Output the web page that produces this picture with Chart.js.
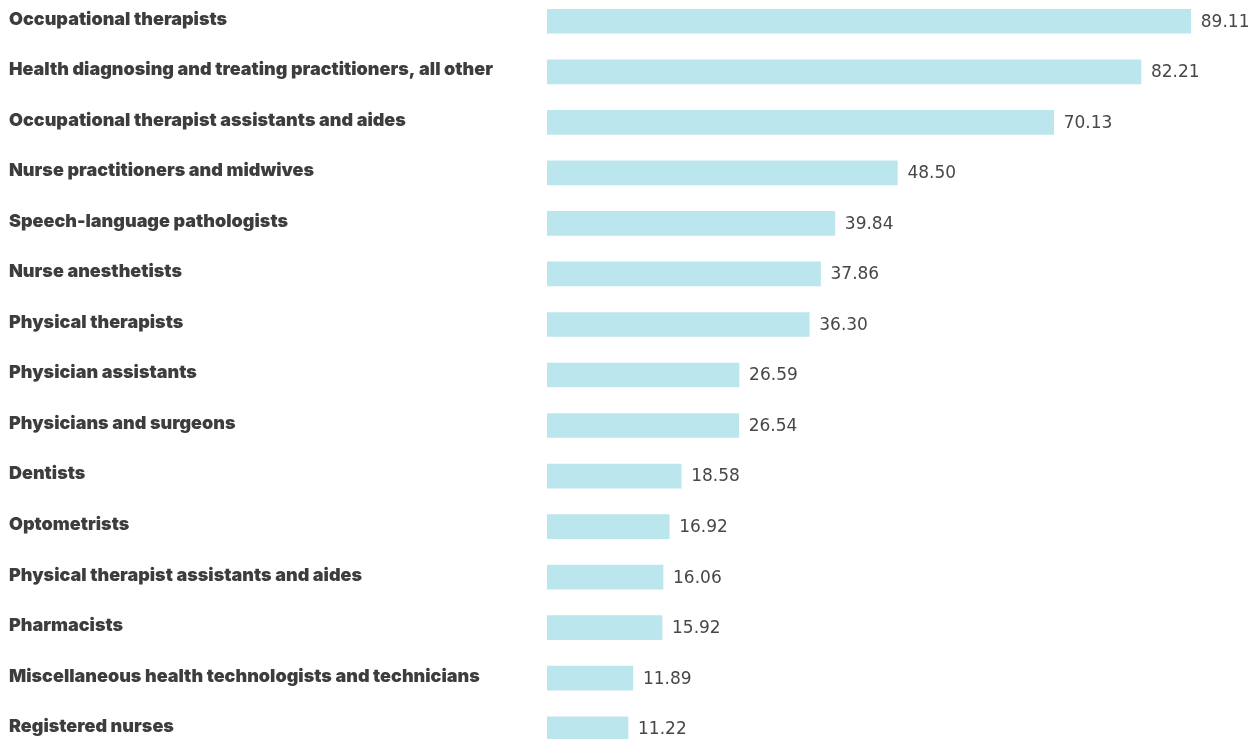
<!DOCTYPE html>
<html>
<head>
<meta charset="utf-8">
<script src="https://cdn.jsdelivr.net/npm/chart.js@4.4.1/dist/chart.umd.min.js"></script>
<style>
    html, body { margin: 0; padding: 0; background: #fff; overflow: hidden; }
    body { width: 1256px; height: 739px; position: relative; }
    #wrap { position: absolute; left: 0; top: -4px; width: 1256px; height: 758px; }
</style>
</head>
<body>
<div id="wrap"><canvas id="chart"></canvas></div>
<script>
// occupations and values, top to bottom
const occupations = [
    'Occupational therapists',
    'Health diagnosing and treating practitioners, all other',
    'Occupational therapist assistants and aides',
    'Nurse practitioners and midwives',
    'Speech-language pathologists',
    'Nurse anesthetists',
    'Physical therapists',
    'Physician assistants',
    'Physicians and surgeons',
    'Dentists',
    'Optometrists',
    'Physical therapist assistants and aides',
    'Pharmacists',
    'Miscellaneous health technologists and technicians',
    'Registered nurses'
];
const values = [89.11, 82.21, 70.13, 48.50, 39.84, 37.86, 36.30, 26.59, 26.54, 18.58, 16.92, 16.06, 15.92, 11.89, 11.22];

const barColor = '#bce6ed';
const labelColor = '#3d3d3d';

// value text right of each bar
const valueLabels = {
    id: 'valueLabels',
    afterDatasetsDraw(chart) {
        const ctx = chart.ctx;
        const meta = chart.getDatasetMeta(0);
        ctx.save();
        ctx.font = '17px "DejaVu Sans"';
        ctx.fillStyle = '#474747';
        ctx.textAlign = 'left';
        ctx.textBaseline = 'middle';
        meta.data.forEach((bar, i) => {
            ctx.fillText(values[i].toFixed(2), bar.x + 10, bar.y + 1);
        });
        ctx.restore();
    }
};

function draw() {
    new Chart(document.getElementById('chart'), {
        type: 'bar',
        data: {
            labels: occupations,
            datasets: [{
                data: values,
                backgroundColor: barColor,
                barThickness: 24
            }]
        },
        options: {
            indexAxis: 'y',
            responsive: true,
            maintainAspectRatio: false,
            animation: false,
            layout: { padding: { left: 9, right: 1, top: 0, bottom: 0 } },
            plugins: {
                legend: { display: false },
                tooltip: { enabled: false }
            },
            scales: {
                x: {
                    display: false,
                    min: 0,
                    max: 98
                },
                y: {
                    afterFit(axis) {
                        axis.width = 538;
                        axis.paddingTop = 0;
                        axis.paddingBottom = 0;
                    },
                    border: { display: false },
                    grid: { display: false },
                    ticks: {
                        crossAlign: 'far',
                        labelOffset: -2,
                        color: labelColor,
                        font: { family: 'Inter', size: 18, weight: '900' }
                    }
                }
            }
        },
        plugins: [valueLabels]
    });
}

Promise.all([
    document.fonts.load('900 18px Inter'),
    document.fonts.load('17px "DejaVu Sans"')
]).then(draw, draw);
</script>
</body>
</html>
